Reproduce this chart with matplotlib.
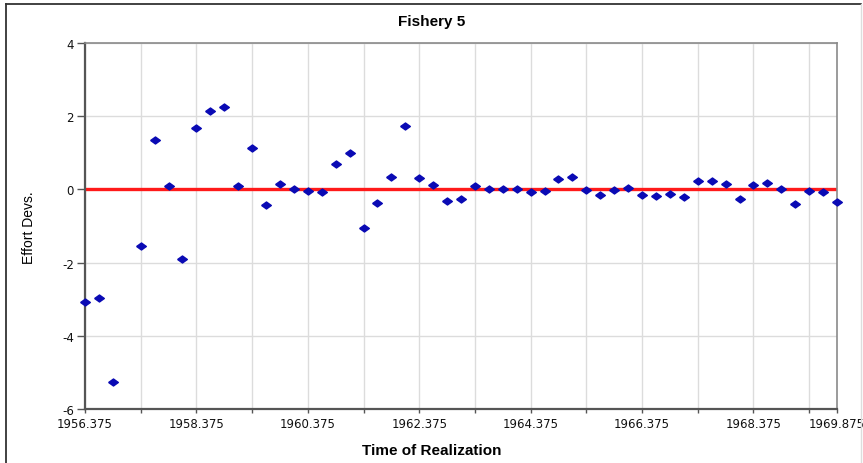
import numpy as np
import matplotlib
matplotlib.use("Agg")
import matplotlib.pyplot as plt
from matplotlib.lines import Line2D

plt.rcParams["axes.unicode_minus"] = False

# time of realization (quarterly), 1957.125 has no value
years = [1956.375, 1956.625, 1956.875, 1957.375, 1957.625, 1957.875,
         1958.125, 1958.375, 1958.625, 1958.875, 1959.125, 1959.375,
         1959.625, 1959.875, 1960.125, 1960.375, 1960.625, 1960.875,
         1961.125, 1961.375, 1961.625, 1961.875, 1962.125, 1962.375,
         1962.625, 1962.875, 1963.125, 1963.375, 1963.625, 1963.875,
         1964.125, 1964.375, 1964.625, 1964.875, 1965.125, 1965.375,
         1965.625, 1965.875, 1966.125, 1966.375, 1966.625, 1966.875,
         1967.125, 1967.375, 1967.625, 1967.875, 1968.125, 1968.375,
         1968.625, 1968.875, 1969.125, 1969.375, 1969.625, 1969.875]
effort_devs = [-3.07, -2.97, -5.27, -1.55, 1.36, 0.10,
               -1.89, 1.67, 2.15, 2.25, 0.10, 1.14,
               -0.43, 0.16, 0.00, -0.05, -0.08, 0.69,
               0.99, -1.05, -0.38, 0.35, 1.73, 0.32,
               0.13, -0.32, -0.27, 0.10, 0.00, 0.00,
               0.00, -0.07, -0.05, 0.29, 0.33, -0.02,
               -0.16, -0.03, 0.05, -0.16, -0.18, -0.13,
               -0.22, 0.22, 0.22, 0.15, -0.25, 0.11,
               0.18, 0.00, -0.41, -0.04, -0.07, -0.35]

x_ticks = [1956.375, 1957.375, 1958.375, 1959.375, 1960.375, 1961.375,
           1962.375, 1963.375, 1964.375, 1965.375, 1966.375, 1967.375,
           1968.375, 1969.375, 1969.875]
x_labels = ["1956.375", "", "1958.375", "", "1960.375", "", "1962.375", "",
            "1964.375", "", "1966.375", "", "1968.375", "", "1969.875"]
y_ticks = [-6, -4, -2, 0, 2, 4]

fig = plt.figure(figsize=(8.63, 4.64), dpi=100)
ax = fig.add_axes([85 / 863, 1 - 410 / 464, 752 / 863, 366 / 464])

# grid
for t in x_ticks[:-1]:
    ax.axvline(t, color="#dcdcdc", lw=1, zorder=0)
for t in y_ticks:
    ax.axhline(t, color="#dcdcdc", lw=1, zorder=0)

ax.axhline(0, color="#ff1a1a", lw=2.4, zorder=2)

diamond = [(-1, 0), (0, 0.72), (1, 0), (0, -0.72), (-1, 0)]
ax.plot(years, effort_devs, linestyle="none", marker=diamond, ms=7,
        color="#0a0ab4", mec="#0a0ab4", zorder=3, clip_on=False)

ax.set_xlim(1956.375, 1969.875)
ax.set_ylim(-6, 4)
ax.set_xticks(x_ticks)
ax.set_xticklabels(x_labels)
ax.set_yticks(y_ticks)
ax.tick_params(axis="x", length=3, width=1, color="#555555", pad=3,
               labelsize=8.5, labelcolor="#111111")
ax.tick_params(axis="y", length=6, width=1, color="#555555", pad=2,
               labelsize=8.5, labelcolor="#111111")

for side in ["left", "bottom"]:
    ax.spines[side].set_color("#555555")
    ax.spines[side].set_linewidth(1.6)
for side in ["top", "right"]:
    ax.spines[side].set_color("#8a8a8a")
    ax.spines[side].set_linewidth(1.2)

fig.text(0.5, 1 - 22 / 464, "Fishery 5", ha="center", va="center",
         fontsize=11, fontweight="bold", family=["Liberation Sans", "DejaVu Sans"])
fig.text(0.5, 1 - 451 / 464, "Time of Realization", ha="center", va="center",
         fontsize=11, fontweight="bold", family=["Liberation Sans", "DejaVu Sans"])
fig.text(29 / 863, 1 - 228 / 464, "Effort Devs.", ha="center", va="center",
         rotation=90, fontsize=10,
         family=["Liberation Sans Narrow", "Liberation Sans", "DejaVu Sans"])

# outer frame of the panel
fig.add_artist(Line2D([6 / 863, 6 / 863], [0, 1 - 5 / 464], color="#333333", lw=1.3))
fig.add_artist(Line2D([6 / 863, 861 / 863], [1 - 5 / 464, 1 - 5 / 464], color="#333333", lw=1.3))
fig.add_artist(Line2D([861 / 863, 861 / 863], [0, 1 - 5 / 464], color="#dddddd", lw=1))

fig.savefig("out.png", dpi=100)
